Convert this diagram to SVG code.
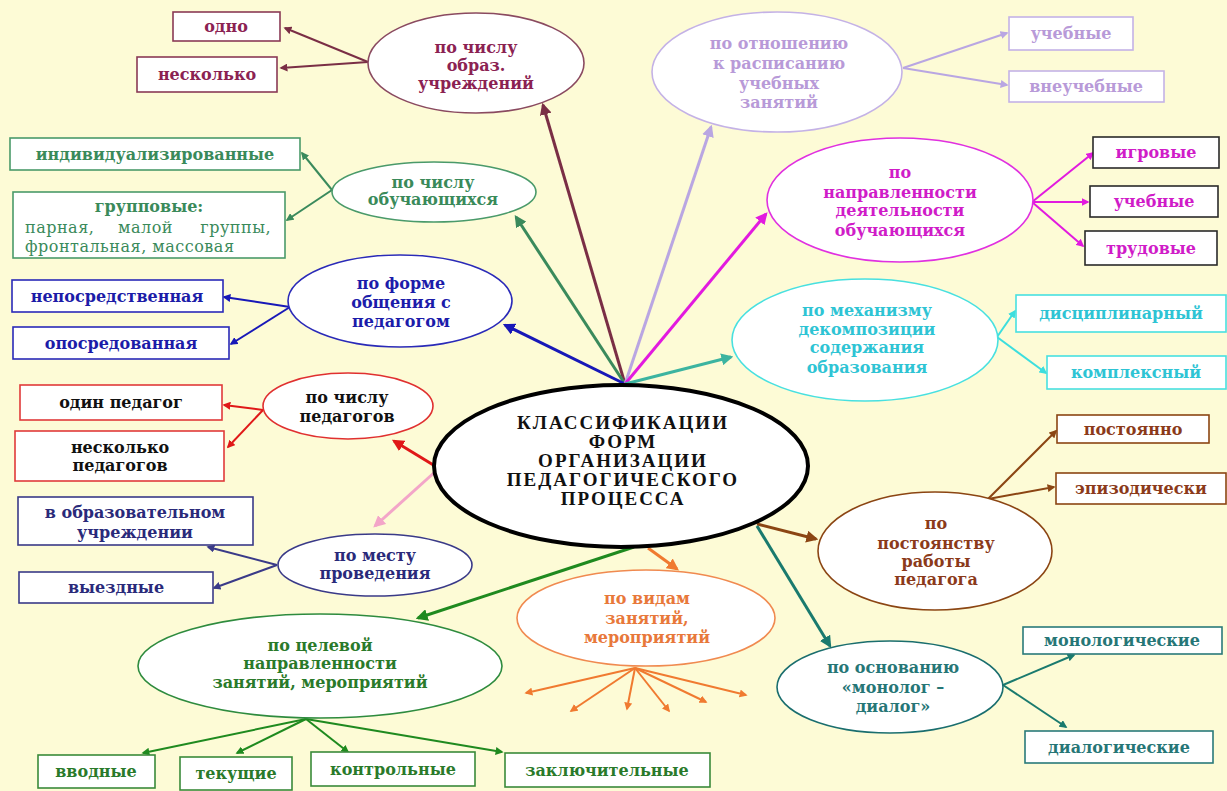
<svg xmlns="http://www.w3.org/2000/svg" width="1227" height="791" viewBox="0 0 1227 791">
  <style>
    .t { font-family: "DejaVu Serif", "Liberation Serif", serif; font-weight: bold; font-size: 16px; text-anchor: middle; }
    .r { font-family: "DejaVu Serif", "Liberation Serif", serif; font-weight: normal; font-size: 16px; letter-spacing: 0.5px; }
    .main { font-family: "Liberation Serif", "Times New Roman", serif; font-weight: bold; font-size: 19px; letter-spacing: 2px; text-anchor: middle; fill: #111; }
    .node ellipse, .node rect { fill: #ffffff; stroke-width: 1.6; }
    .conn line { fill: none; }
    .hub { stroke-width: 3; }
    .br { stroke-width: 2; }
  </style>
  <defs>
    <marker id="a-maroon" viewBox="0 0 10 10" refX="8" refY="5" markerWidth="4" markerHeight="4" orient="auto"><path d="M0,0 L10,5 L0,10 z" fill="#7a2e45"/></marker>
    <marker id="a-green1" viewBox="0 0 10 10" refX="8" refY="5" markerWidth="4" markerHeight="4" orient="auto"><path d="M0,0 L10,5 L0,10 z" fill="#3a8a5c"/></marker>
    <marker id="a-blue" viewBox="0 0 10 10" refX="8" refY="5" markerWidth="4" markerHeight="4" orient="auto"><path d="M0,0 L10,5 L0,10 z" fill="#1818b8"/></marker>
    <marker id="a-lav" viewBox="0 0 10 10" refX="8" refY="5" markerWidth="4" markerHeight="4" orient="auto"><path d="M0,0 L10,5 L0,10 z" fill="#b9a6e2"/></marker>
    <marker id="a-mag" viewBox="0 0 10 10" refX="8" refY="5" markerWidth="4" markerHeight="4" orient="auto"><path d="M0,0 L10,5 L0,10 z" fill="#e21adf"/></marker>
    <marker id="a-tealc" viewBox="0 0 10 10" refX="8" refY="5" markerWidth="4" markerHeight="4" orient="auto"><path d="M0,0 L10,5 L0,10 z" fill="#3cb4a0"/></marker>
    <marker id="a-cyan" viewBox="0 0 10 10" refX="8" refY="5" markerWidth="4" markerHeight="4" orient="auto"><path d="M0,0 L10,5 L0,10 z" fill="#3cdede"/></marker>
    <marker id="a-red" viewBox="0 0 10 10" refX="8" refY="5" markerWidth="4" markerHeight="4" orient="auto"><path d="M0,0 L10,5 L0,10 z" fill="#e01818"/></marker>
    <marker id="a-pink" viewBox="0 0 10 10" refX="8" refY="5" markerWidth="4" markerHeight="4" orient="auto"><path d="M0,0 L10,5 L0,10 z" fill="#f3a5c8"/></marker>
    <marker id="a-green2" viewBox="0 0 10 10" refX="8" refY="5" markerWidth="4" markerHeight="4" orient="auto"><path d="M0,0 L10,5 L0,10 z" fill="#1f8a1f"/></marker>
    <marker id="a-orange" viewBox="0 0 10 10" refX="8" refY="5" markerWidth="4" markerHeight="4" orient="auto"><path d="M0,0 L10,5 L0,10 z" fill="#f07a30"/></marker>
    <marker id="a-brown" viewBox="0 0 10 10" refX="8" refY="5" markerWidth="4" markerHeight="4" orient="auto"><path d="M0,0 L10,5 L0,10 z" fill="#8b4513"/></marker>
    <marker id="a-teal" viewBox="0 0 10 10" refX="8" refY="5" markerWidth="4" markerHeight="4" orient="auto"><path d="M0,0 L10,5 L0,10 z" fill="#1a7a6e"/></marker>
    <marker id="a-navy" viewBox="0 0 10 10" refX="8" refY="5" markerWidth="4" markerHeight="4" orient="auto"><path d="M0,0 L10,5 L0,10 z" fill="#3a3a88"/></marker>
  </defs>

  <!-- background -->
  <rect x="0" y="0" width="1227" height="791" fill="#fdfbd6"/>

  <!-- connectors -->
  <g id="connectors" class="conn">
    <!-- from the top of the central ellipse -->
    <line class="hub" x1="625" y1="384" x2="543" y2="105" stroke="#7a2e45" marker-end="url(#a-maroon)"/>
    <line class="hub" x1="625" y1="384" x2="516" y2="217" stroke="#3a8a5c" marker-end="url(#a-green1)"/>
    <line class="hub" x1="625" y1="384" x2="505" y2="325" stroke="#1818b8" marker-end="url(#a-blue)"/>
    <line class="hub" x1="625" y1="384" x2="711" y2="127" stroke="#b9a6e2" marker-end="url(#a-lav)"/>
    <line class="hub" x1="625" y1="384" x2="766" y2="214" stroke="#e21adf" marker-end="url(#a-mag)"/>
    <line class="hub" x1="625" y1="384" x2="731" y2="357" stroke="#3cb4a0" marker-end="url(#a-tealc)"/>
    <!-- from the sides and bottom of the central ellipse -->
    <line class="hub" x1="435" y1="466" x2="394" y2="441" stroke="#e01818" marker-end="url(#a-red)"/>
    <line class="hub" x1="436" y1="471" x2="375" y2="526" stroke="#f3a5c8" stroke-width="2.5" marker-end="url(#a-pink)"/>
    <line class="hub" x1="634" y1="547" x2="418" y2="618" stroke="#1f8a1f" marker-end="url(#a-green2)"/>
    <line class="hub" x1="648" y1="548" x2="677" y2="569" stroke="#f07a30" stroke-width="2.5" marker-end="url(#a-orange)"/>
    <line class="hub" x1="757" y1="524" x2="816" y2="539" stroke="#8b4513" stroke-width="2.5" marker-end="url(#a-brown)"/>
    <line class="hub" x1="757" y1="526" x2="830" y2="646" stroke="#1a7a6e" marker-end="url(#a-teal)"/>

    <!-- branches to leaf boxes -->
    <line class="br" x1="368" y1="62" x2="285" y2="28" stroke="#7a2e45" marker-end="url(#a-maroon)"/>
    <line class="br" x1="368" y1="62" x2="281" y2="68" stroke="#7a2e45" marker-end="url(#a-maroon)"/>

    <line class="br" x1="332" y1="190" x2="302" y2="153" stroke="#3a8a5c" marker-end="url(#a-green1)"/>
    <line class="br" x1="332" y1="190" x2="287" y2="220" stroke="#3a8a5c" marker-end="url(#a-green1)"/>

    <line class="br" x1="290" y1="307" x2="224" y2="297" stroke="#1818b8" marker-end="url(#a-blue)"/>
    <line class="br" x1="290" y1="307" x2="231" y2="344" stroke="#1818b8" marker-end="url(#a-blue)"/>

    <line class="br" x1="263" y1="410" x2="224" y2="405" stroke="#e01818" marker-end="url(#a-red)"/>
    <line class="br" x1="263" y1="410" x2="228" y2="447" stroke="#e01818" marker-end="url(#a-red)"/>

    <line class="br" x1="277" y1="565" x2="208" y2="547" stroke="#3a3a88" marker-end="url(#a-navy)"/>
    <line class="br" x1="277" y1="565" x2="214" y2="588" stroke="#3a3a88" marker-end="url(#a-navy)"/>

    <line class="br" x1="306" y1="719" x2="143" y2="753" stroke="#1f8a1f" marker-end="url(#a-green2)"/>
    <line class="br" x1="306" y1="719" x2="237" y2="753" stroke="#1f8a1f" marker-end="url(#a-green2)"/>
    <line class="br" x1="306" y1="719" x2="348" y2="752" stroke="#1f8a1f" marker-end="url(#a-green2)"/>
    <line class="br" x1="306" y1="719" x2="502" y2="752" stroke="#1f8a1f" marker-end="url(#a-green2)"/>

    <line class="br" x1="635" y1="668" x2="526" y2="693" stroke="#f07a30" marker-end="url(#a-orange)"/>
    <line class="br" x1="635" y1="668" x2="571" y2="711" stroke="#f07a30" marker-end="url(#a-orange)"/>
    <line class="br" x1="635" y1="668" x2="627" y2="709" stroke="#f07a30" marker-end="url(#a-orange)"/>
    <line class="br" x1="635" y1="668" x2="669" y2="711" stroke="#f07a30" marker-end="url(#a-orange)"/>
    <line class="br" x1="635" y1="668" x2="706" y2="702" stroke="#f07a30" marker-end="url(#a-orange)"/>
    <line class="br" x1="635" y1="668" x2="746" y2="695" stroke="#f07a30" marker-end="url(#a-orange)"/>

    <line class="br" x1="903" y1="68" x2="1007" y2="33" stroke="#b9a6e2" marker-end="url(#a-lav)"/>
    <line class="br" x1="903" y1="68" x2="1007" y2="85" stroke="#b9a6e2" marker-end="url(#a-lav)"/>

    <line class="br" x1="1032" y1="202" x2="1093" y2="153" stroke="#e21adf" marker-end="url(#a-mag)"/>
    <line class="br" x1="1032" y1="202" x2="1088" y2="202" stroke="#e21adf" marker-end="url(#a-mag)"/>
    <line class="br" x1="1032" y1="202" x2="1083" y2="246" stroke="#e21adf" marker-end="url(#a-mag)"/>

    <line class="br" x1="997" y1="337" x2="1015" y2="311" stroke="#3cdede" marker-end="url(#a-cyan)"/>
    <line class="br" x1="997" y1="337" x2="1046" y2="373" stroke="#3cdede" marker-end="url(#a-cyan)"/>

    <line class="br" x1="988" y1="499" x2="1056" y2="431" stroke="#8b4513" marker-end="url(#a-brown)"/>
    <line class="br" x1="988" y1="499" x2="1054" y2="487" stroke="#8b4513" marker-end="url(#a-brown)"/>

    <line class="br" x1="1003" y1="685" x2="1074" y2="655" stroke="#1a7a6e" marker-end="url(#a-teal)"/>
    <line class="br" x1="1003" y1="685" x2="1066" y2="727" stroke="#1a7a6e" marker-end="url(#a-teal)"/>
  </g>

  <!-- central node -->
  <g id="center" class="node">
    <ellipse cx="621" cy="466" rx="187" ry="81" stroke="#000" style="stroke-width:4"/>
    <text class="main" x="623" y="429">КЛАССИФИКАЦИИ</text>
    <text class="main" x="623" y="448">ФОРМ</text>
    <text class="main" x="623" y="467">ОРГАНИЗАЦИИ</text>
    <text class="main" x="623" y="486">ПЕДАГОГИЧЕСКОГО</text>
    <text class="main" x="623" y="505">ПРОЦЕССА</text>
  </g>

  <!-- по числу образовательных учреждений -->
  <g id="n-institutions" class="node">
    <ellipse cx="476" cy="63" rx="108" ry="50" stroke="#8a4a60"/>
    <g class="t" fill="#8b2252" font-size="17">
      <text x="476" y="53">по числу</text>
      <text x="476" y="71">образ.</text>
      <text x="476" y="89">учреждений</text>
    </g>
  </g>
  <g id="b-odno" class="node">
    <rect x="173" y="12" width="107" height="29" stroke="#8a3a55"/>
    <text class="t" x="226" y="32" fill="#8b2252">одно</text>
  </g>
  <g id="b-neskolko" class="node">
    <rect x="137" y="57" width="140" height="35" stroke="#8a3a55"/>
    <text class="t" x="207" y="80" fill="#8b2252">несколько</text>
  </g>

  <!-- по числу обучающихся -->
  <g id="n-learners" class="node">
    <ellipse cx="434" cy="192" rx="102" ry="30" stroke="#4a9a6a"/>
    <g class="t" fill="#3a8a5a" font-size="12.5">
      <text x="433" y="188">по числу</text>
      <text x="433" y="205">обучающихся</text>
    </g>
  </g>
  <g id="b-individual" class="node">
    <rect x="10" y="138" width="290" height="32" stroke="#4a9a6a"/>
    <text class="t" x="155" y="160" fill="#3a8a5a">индивидуализированные</text>
  </g>
  <g id="b-group" class="node">
    <rect x="13" y="192" width="272" height="66" stroke="#4a9a6a"/>
    <text class="t" x="149" y="212" fill="#3a8a5a">групповые:</text>
    <g class="r" fill="#3a8a5a">
      <text x="25" y="233">парная,</text>
      <text x="118" y="233">малой</text>
      <text x="271" y="233" text-anchor="end">группы,</text>
      <text x="25" y="252">фронтальная, массовая</text>
    </g>
  </g>

  <!-- по форме общения с педагогом -->
  <g id="n-communication" class="node">
    <ellipse cx="400" cy="301" rx="112" ry="46" stroke="#2a2ab8"/>
    <g class="t" fill="#1c1caa">
      <text x="401" y="289">по форме</text>
      <text x="401" y="308">общения с</text>
      <text x="401" y="327">педагогом</text>
    </g>
  </g>
  <g id="b-direct" class="node">
    <rect x="12" y="280" width="211" height="32" stroke="#2a2ab8"/>
    <text class="t" x="117" y="302" fill="#1c1ca8">непосредственная</text>
  </g>
  <g id="b-mediated" class="node">
    <rect x="13" y="327" width="216" height="32" stroke="#2a2ab8"/>
    <text class="t" x="121" y="349" fill="#1c1ca8">опосредованная</text>
  </g>

  <!-- по числу педагогов -->
  <g id="n-teachers" class="node">
    <ellipse cx="348" cy="406" rx="85" ry="33" stroke="#e03030"/>
    <g class="t" fill="#111">
      <text x="347" y="403">по числу</text>
      <text x="347" y="422">педагогов</text>
    </g>
  </g>
  <g id="b-one-teacher" class="node">
    <rect x="20" y="385" width="202" height="35" stroke="#e03a3a"/>
    <text class="t" x="121" y="408" fill="#111">один педагог</text>
  </g>
  <g id="b-several-teachers" class="node">
    <rect x="15" y="431" width="209" height="50" stroke="#e03a3a"/>
    <g class="t" fill="#111">
      <text x="120" y="453">несколько</text>
      <text x="120" y="471">педагогов</text>
    </g>
  </g>

  <!-- по месту проведения -->
  <g id="n-place" class="node">
    <ellipse cx="375" cy="565" rx="97" ry="31" stroke="#3a3a88"/>
    <g class="t" fill="#2a2a7a">
      <text x="375" y="561">по месту</text>
      <text x="375" y="579">проведения</text>
    </g>
  </g>
  <g id="b-in-school" class="node">
    <rect x="18" y="497" width="235" height="48" stroke="#3a3a88"/>
    <g class="t" fill="#2a2a7a">
      <text x="135" y="518">в образовательном</text>
      <text x="135" y="538">учреждении</text>
    </g>
  </g>
  <g id="b-outside" class="node">
    <rect x="19" y="572" width="194" height="31" stroke="#3a3a88"/>
    <text class="t" x="116" y="593" fill="#2a2a7a">выездные</text>
  </g>

  <!-- по целевой направленности -->
  <g id="n-purpose" class="node">
    <ellipse cx="320" cy="666" rx="182" ry="52" stroke="#2e8b3e"/>
    <g class="t" fill="#2a7a2a">
      <text x="320" y="651">по целевой</text>
      <text x="320" y="669">направленности</text>
      <text x="320" y="688">занятий, мероприятий</text>
    </g>
  </g>
  <g id="b-intro" class="node">
    <rect x="38" y="755" width="117" height="33" stroke="#3a8a3a"/>
    <text class="t" x="96" y="777" fill="#2a7a2a">вводные</text>
  </g>
  <g id="b-current" class="node">
    <rect x="180" y="757" width="112" height="33" stroke="#3a8a3a"/>
    <text class="t" x="236" y="779" fill="#2a7a2a">текущие</text>
  </g>
  <g id="b-control" class="node">
    <rect x="311" y="752" width="164" height="34" stroke="#3a8a3a"/>
    <text class="t" x="393" y="775" fill="#2a7a2a">контрольные</text>
  </g>
  <g id="b-final" class="node">
    <rect x="505" y="753" width="205" height="34" stroke="#3a8a3a"/>
    <text class="t" x="607" y="776" fill="#2a7a2a">заключительные</text>
  </g>

  <!-- по видам занятий -->
  <g id="n-kinds" class="node">
    <ellipse cx="646" cy="618" rx="129" ry="48" stroke="#f08a50"/>
    <g class="t" fill="#e8783a">
      <text x="647" y="604">по видам</text>
      <text x="647" y="624">занятий,</text>
      <text x="647" y="643">мероприятий</text>
    </g>
  </g>

  <!-- по отношению к расписанию -->
  <g id="n-schedule" class="node">
    <ellipse cx="777" cy="72" rx="125" ry="60" stroke="#c4b2e6"/>
    <g class="t" fill="#b89ad8">
      <text x="779" y="49">по отношению</text>
      <text x="779" y="69">к расписанию</text>
      <text x="779" y="89">учебных</text>
      <text x="779" y="108">занятий</text>
    </g>
  </g>
  <g id="b-study" class="node">
    <rect x="1009" y="17" width="124" height="33" stroke="#c4b2e6"/>
    <text class="t" x="1071" y="39" fill="#b89ad8">учебные</text>
  </g>
  <g id="b-extra" class="node">
    <rect x="1009" y="71" width="155" height="31" stroke="#c4b2e6"/>
    <text class="t" x="1086" y="92" fill="#b89ad8">внеучебные</text>
  </g>

  <!-- по направленности деятельности -->
  <g id="n-activity" class="node">
    <ellipse cx="900" cy="200" rx="133" ry="62" stroke="#e030e0"/>
    <g class="t" fill="#d01cc8">
      <text x="900" y="178">по</text>
      <text x="900" y="198">направленности</text>
      <text x="900" y="216">деятельности</text>
      <text x="900" y="236">обучающихся</text>
    </g>
  </g>
  <g id="b-game" class="node">
    <rect x="1093" y="137" width="126" height="31" stroke="#2a2a2a"/>
    <text class="t" x="1156" y="158" fill="#d01cc8">игровые</text>
  </g>
  <g id="b-learning" class="node">
    <rect x="1090" y="186" width="128" height="31" stroke="#2a2a2a"/>
    <text class="t" x="1154" y="207" fill="#d01cc8">учебные</text>
  </g>
  <g id="b-labour" class="node">
    <rect x="1085" y="231" width="132" height="34" stroke="#2a2a2a"/>
    <text class="t" x="1151" y="254" fill="#d01cc8">трудовые</text>
  </g>

  <!-- по механизму декомпозиции -->
  <g id="n-decomposition" class="node">
    <ellipse cx="865" cy="340" rx="133" ry="61" stroke="#48e0e0"/>
    <g class="t" fill="#2ec4d4">
      <text x="867" y="316">по механизму</text>
      <text x="867" y="335">декомпозиции</text>
      <text x="867" y="353">содержания</text>
      <text x="867" y="373">образования</text>
    </g>
  </g>
  <g id="b-discipline" class="node">
    <rect x="1016" y="295" width="210" height="37" stroke="#48e0e0"/>
    <text class="t" x="1121" y="319" fill="#2ec4d4">дисциплинарный</text>
  </g>
  <g id="b-complex" class="node">
    <rect x="1047" y="356" width="179" height="33" stroke="#48e0e0"/>
    <text class="t" x="1136" y="378" fill="#2ec4d4">комплексный</text>
  </g>

  <!-- по постоянству работы педагога -->
  <g id="n-constancy" class="node">
    <ellipse cx="935" cy="551" rx="117" ry="59" stroke="#8b4513"/>
    <g class="t" fill="#8b3a1a">
      <text x="936" y="529">по</text>
      <text x="936" y="549">постоянству</text>
      <text x="936" y="567">работы</text>
      <text x="936" y="585">педагога</text>
    </g>
  </g>
  <g id="b-constant" class="node">
    <rect x="1057" y="415" width="152" height="28" stroke="#8b4513"/>
    <text class="t" x="1133" y="435" fill="#8b3a1a">постоянно</text>
  </g>
  <g id="b-episodic" class="node">
    <rect x="1056" y="473" width="170" height="31" stroke="#8b4513"/>
    <text class="t" x="1141" y="494" fill="#8b3a1a">эпизодически</text>
  </g>

  <!-- по основанию «монолог – диалог» -->
  <g id="n-dialogue" class="node">
    <ellipse cx="890" cy="687" rx="113" ry="46" stroke="#1a6e6e"/>
    <g class="t" fill="#267676" font-size="15">
      <text x="893" y="673">по основанию</text>
      <text x="893" y="693">«монолог –</text>
      <text x="893" y="712">диалог»</text>
    </g>
  </g>
  <g id="b-monologic" class="node">
    <rect x="1023" y="627" width="199" height="27" stroke="#2a7a7a"/>
    <text class="t" x="1122" y="646" fill="#267676">монологические</text>
  </g>
  <g id="b-dialogic" class="node">
    <rect x="1025" y="731" width="188" height="32" stroke="#2a7a7a"/>
    <text class="t" x="1119" y="753" fill="#267676">диалогические</text>
  </g>
</svg>
